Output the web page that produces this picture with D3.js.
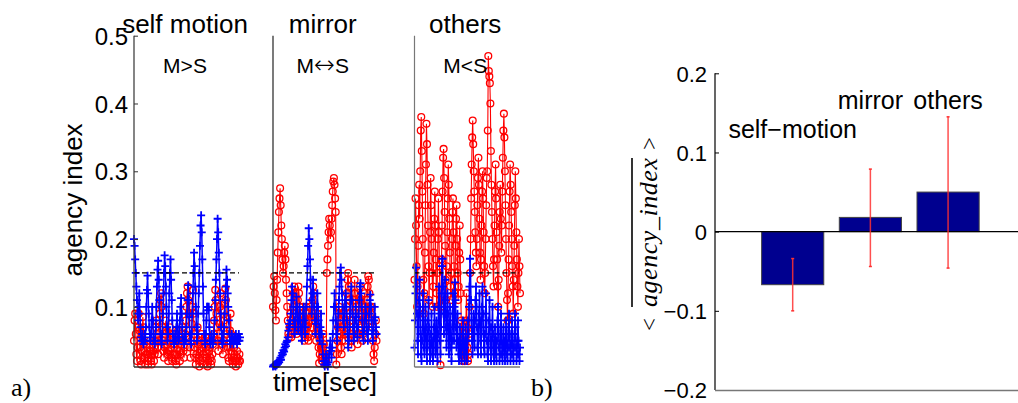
<!DOCTYPE html>
<html><head><meta charset="utf-8">
<script src="https://cdn.jsdelivr.net/npm/d3@7"></script>
<style>body{margin:0;background:#fff} svg{display:block}</style>
</head><body>
<svg id="c" width="1018" height="403"></svg>
<script>
// ---------- data ----------
const panelTitles = ["self motion", "mirror", "others"];
const panelSubtitles = [["M", ">", "S"], ["M", "\u2194", "S"], ["M", "<", "S"]];
const yTicksA = [0.1, 0.2, 0.3, 0.4, 0.5];
const threshold = 0.15;

// self motion: red = circles, blue = pluses
const red1 = [0.05,0.08,0.09,0.06,0.03,0.02,0.04,0.07,0.09,0.065,0.04,0.02,0.015,0.035,0.06,0.085,0.07,0.045,
 0.025,0.015,0.03,0.045,0.03,0.02,0.015,0.025,0.04,0.05,0.035,0.02,0.015,0.03,0.045,0.035,0.02,
 0.03,0.05,0.07,0.08,0.06,0.04,0.03,0.05,0.075,0.09,0.11,0.12,0.1,0.07,0.05,0.035,0.025,
 0.04,0.06,0.08,0.065,0.045,0.03,0.02,0.035,0.05,0.07,0.055,0.04,0.025,0.02,0.03,0.045,0.06,
 0.045,0.03,0.02,0.015,0.03,0.05,0.065,0.05,0.035,0.02,0.03,0.045,0.06,0.07,0.05,0.035,0.025,
 0.04,0.06,0.08,0.1,0.12,0.13,0.11,0.09,0.065,0.04,0.025,0.05,0.075,0.1,0.125,0.09,0.06,
 0.04,0.025,0.015,0.03,0.05,0.07,0.045,0.025,0.012,0.02,0.035,0.05,0.06,0.04,0.025,0.015,0.03,
 0.045,0.055,0.04,0.025,0.015,0.012,0.02,0.035,0.05,0.04,0.025,0.015,0.02,0.03,0.045,0.06,0.08,
 0.1,0.125,0.11,0.09,0.07,0.05,0.035,0.05,0.075,0.1,0.12,0.095,0.07,0.045,0.03,0.05,0.08,
 0.105,0.127,0.11,0.085,0.06,0.04,0.025,0.02,0.04,0.065,0.09,0.06,0.035,0.02,0.015,0.025,0.04,
 0.03,0.02,0.012,0.02,0.035,0.025,0.015,0.02,0.03,0.02];
const blue1 = [0.2,0.19,0.17,0.15,0.13,0.11,0.09,0.08,0.1,0.12,0.09,0.07,0.055,0.05,0.06,0.05,0.045,0.05,
 0.06,0.05,0.07,0.1,0.125,0.146,0.12,0.09,0.07,0.055,0.05,0.06,0.08,0.1,0.08,0.06,0.05,
 0.045,0.05,0.07,0.1,0.13,0.155,0.168,0.14,0.11,0.08,0.06,0.05,0.045,0.06,0.09,0.12,0.15,
 0.176,0.16,0.13,0.1,0.07,0.05,0.06,0.09,0.12,0.15,0.17,0.14,0.11,0.08,0.06,0.05,0.045,
 0.05,0.06,0.05,0.07,0.09,0.07,0.055,0.05,0.06,0.08,0.1,0.113,0.09,0.07,0.055,0.05,0.045,
 0.05,0.06,0.05,0.07,0.09,0.11,0.132,0.11,0.085,0.06,0.05,0.045,0.06,0.09,0.12,0.15,0.18,
 0.16,0.13,0.1,0.07,0.05,0.06,0.09,0.12,0.15,0.19,0.22,0.235,0.21,0.17,0.13,0.09,0.06,
 0.05,0.045,0.06,0.08,0.1,0.1,0.095,0.1,0.07,0.05,0.045,0.05,0.06,0.05,0.045,0.05,0.06,
 0.08,0.11,0.14,0.17,0.2,0.23,0.21,0.18,0.15,0.12,0.09,0.07,0.05,0.045,0.06,0.05,0.07,
 0.09,0.11,0.13,0.155,0.14,0.12,0.1,0.08,0.06,0.05,0.045,0.05,0.06,0.05,0.055,0.045,0.05,
 0.055,0.05,0.06,0.05,0.045,0.055,0.05,0.06,0.05,0.055];

// mirror
const red2 = [0.1,0.13,0.145,0.12,0.095,0.08,0.11,0.14,
 0.18,0.21,0.24,0.26,0.275,0.25,0.22,0.2,0.17,0.15,
 0.16,0.18,0.19,0.17,0.14,0.12,0.1,0.08,0.06,0.055,
 0.07,0.09,0.07,0.055,0.06,0.08,0.1,0.12,0.13,0.11,
 0.09,0.07,0.06,0.08,0.11,0.13,0.12,0.1,0.08,0.065,0.07,0.09,
 0.1,0.08,0.06,0.05,0.065,0.08,0.1,0.09,0.07,0.055,0.05,0.06,0.08,0.1,0.085,0.07,
 0.09,0.11,0.13,0.12,0.1,0.08,0.06,0.05,0.07,0.09,0.06,0.04,0.017,
 0.03,0.05,0.04,0.025,0.02,0.04,0.06,0.045,0.03,0.02,0.015,0.02,
 0.15,0.17,0.19,0.21,0.23,0.22,0.2,0.21,0.23,0.25,0.27,0.285,0.29,0.28,0.26,0.24,0.015,
 0.03,0.05,0.07,0.09,0.1,0.08,0.06,0.04,0.03,0.05,0.07,0.09,0.08,0.06,0.05,
 0.08,0.1,0.12,0.14,0.15,0.13,0.11,0.09,0.07,
 0.05,0.04,0.06,0.08,0.1,0.12,0.14,0.12,0.1,0.08,0.06,0.045,0.06,0.09,0.11,0.13,
 0.11,0.09,0.07,0.05,0.06,0.08,0.1,0.12,0.1,0.08,
 0.09,0.11,0.13,0.145,0.14,0.12,0.1,0.09,0.08,0.1,
 0.07,0.05,0.03,0.02,0.04,0.06,0.08,0.05];
const blue2 = [0.012,0.014,0.013,0.015,0.012,0.016,0.014,0.018,0.016,0.02,0.018,0.022,
 0.025,0.022,0.028,0.032,0.03,0.036,0.034,0.04,0.045,0.042,0.048,0.05,
 0.055,0.065,0.075,0.07,0.08,
 0.09,0.11,0.13,0.12,0.1,0.08,0.06,0.07,0.09,0.115,0.1,0.08,0.065,0.08,0.1,0.09,0.07,
 0.06,0.05,0.07,0.09,0.1,0.08,0.06,0.07,
 0.1,0.13,0.16,0.19,0.216,0.2,0.17,0.14,0.11,
 0.09,0.12,0.14,0.12,0.1,0.08,0.06,0.075,0.1,0.12,
 0.1,0.08,0.06,0.05,0.07,0.09,0.06,
 0.045,0.03,0.02,0.015,0.012,0.02,0.03,0.025,0.015,0.012,0.018,0.03,0.04,0.05,0.035,0.025,
 0.04,0.06,0.08,0.1,0.12,0.1,0.08,0.06,0.05,0.07,0.09,0.11,0.13,
 0.15,0.158,0.14,0.12,0.1,0.08,0.07,0.09,0.11,0.12,0.1,
 0.08,0.06,0.04,0.05,0.07,0.09,0.11,0.13,0.11,0.09,0.07,0.05,0.06,0.08,0.1,0.085,
 0.07,0.055,0.07,0.09,0.11,0.13,0.135,0.12,0.1,0.08,0.06,0.05,0.065,0.08,0.1,0.09,
 0.07,0.06,0.05,0.07,0.09,0.11,0.118,0.1,0.08,0.06,0.05,0.065,0.08,0.1,0.085,0.07,0.06];

// others
const red3 = [0.14,0.2,0.26,0.22,0.16,0.1,0.13,0.19,0.25,0.28,
 0.23,0.3,0.36,0.38,0.33,0.27,0.2,0.14,0.09,0.12,0.18,0.25,0.31,0.37,0.34,0.28,0.22,0.16,0.11,0.15,0.21,0.29,
 0.25,0.2,0.15,0.1,
 0.13,0.18,0.23,0.27,0.22,0.17,0.12,0.1,0.15,0.2,0.26,0.21,0.16,0.11,0.014,0.1,0.17,0.22,
 0.27,0.32,0.333,0.29,0.24,0.19,0.14,0.11,0.16,0.21,0.26,0.31,0.28,0.23,
 0.18,0.13,0.11,0.15,0.2,0.24,0.26,0.21,0.16,0.12,0.14,0.19,0.23,0.25,0.2,0.15,0.11,0.13,0.18,0.22,0.17,0.12,
 0.08,0.05,0.03,0.02,0.04,0.06,0.03,0.02,0.05,0.08,0.12,0.07,0.04,0.02,0.03,0.06,0.1,0.15,
 0.2,0.26,0.31,0.35,0.375,0.34,0.3,0.27,0.24,0.21,0.18,0.16,
 0.2,0.25,0.29,0.32,0.28,0.23,0.18,0.14,0.17,0.22,0.27,0.3,0.26,0.21,0.16,0.12,0.15,0.2,0.25,0.29,
 0.3,0.36,0.47,0.448,0.44,0.43,0.4,0.33,
 0.28,0.24,0.2,0.16,0.13,0.17,0.22,0.27,0.31,0.26,0.21,0.17,0.13,0.1,0.14,0.19,0.24,0.28,0.23,0.18,
 0.22,0.27,0.32,0.36,0.385,0.35,0.3,0.25,0.2,0.15,0.11,0.08,
 0.12,0.17,0.22,0.27,0.31,0.28,0.24,0.2,0.16,0.13,0.09,0.14,0.19,0.25,0.3,0.26,0.21,0.17,0.13,0.1,0.15,0.2,0.16,0.12];
const blue3 = [0.04,0.08,0.12,0.158,0.13,0.09,0.05,0.03,0.07,0.11,0.14,0.1,0.06,0.03,0.02,0.05,0.09,0.12,0.08,0.04,
 0.03,0.06,0.1,0.07,0.04,0.02,0.05,0.08,0.11,0.07,0.04,0.02,0.03,0.06,0.09,0.05,0.03,0.02,0.04,0.07,
 0.1,0.06,0.03,0.05,0.08,0.04,0.02,0.06,0.1,0.13,0.09,0.05,0.03,0.07,0.12,0.16,0.171,0.13,0.09,0.06,
 0.1,0.14,0.11,0.07,0.04,0.08,0.12,0.09,0.05,0.03,0.06,0.1,0.07,0.04,0.02,0.05,0.09,0.12,0.08,0.05,
 0.1,0.136,0.11,0.07,0.04,0.06,0.09,0.05,0.03,0.02,0.04,0.07,0.05,0.03,0.02,0.04,0.06,0.08,0.05,0.03,
 0.02,0.04,0.07,0.05,0.03,0.02,0.05,0.08,0.06,0.1,0.13,0.171,0.15,0.11,0.08,0.05,0.03,0.06,0.09,0.07,
 0.04,0.08,0.11,0.13,0.1,0.07,0.04,0.03,0.06,0.09,0.12,0.08,0.05,0.03,0.07,0.1,0.13,0.09,0.06,0.04,
 0.03,0.06,0.09,0.12,0.08,0.05,0.03,0.02,0.05,0.08,0.11,0.07,0.04,0.02,0.04,0.07,0.1,0.06,0.03,0.02,
 0.04,0.07,0.05,0.03,0.02,0.05,0.08,0.1,0.07,0.04,0.02,0.03,0.06,0.09,0.06,0.03,0.02,0.04,0.07,0.05,
 0.03,0.02,0.05,0.08,0.06,0.03,0.02,0.04,0.07,0.09,0.06,0.04,0.02,0.03,0.06,0.08,0.05,0.03,0.02,0.04,
 0.06,0.09,0.07,0.04,0.02,0.03,0.05,0.08,0.05,0.03,0.02,0.04];

const barCategories = ["self\u2212motion", "mirror", "others"];
const barMeans = [-0.067, 0.018, 0.05];
const barErrLow = [-0.100, -0.044, -0.046];
const barErrHigh = [-0.034, 0.079, 0.145];
const yTicksB = [-0.2, -0.1, 0, 0.1, 0.2];

// ---------- drawing ----------
const svg = d3.select("#c");
const SANS = "'Liberation Sans', Arial, sans-serif";
const SERIF = "'Liberation Serif', 'Times New Roman', serif";

// panel a
const yA = d3.scaleLinear().domain([0.0113, 0.5]).range([367, 35.7]);
const panels = [
  {x0: 134, x1: 240, red: red1, blue: blue1},
  {x0: 273, x1: 376.5, red: red2, blue: blue2},
  {x0: 414.5, x1: 520, red: red3, blue: blue3}
];
const axisColors = ["#333", "#222", "#777"];

panels.forEach((p, k) => {
  const xr = d3.scaleLinear().domain([0, p.red.length - 1]).range([p.x0, p.x1]);
  const xb = d3.scaleLinear().domain([0, p.blue.length - 1]).range([p.x0, p.x1]);
  const g = svg.append("g");
  g.append("path").datum(p.red)
    .attr("d", d3.line().x((d, i) => xr(i)).y(d => yA(d)))
    .attr("fill", "none").attr("stroke", "#ff0000").attr("stroke-width", 1.1);
  g.selectAll("circle.r").data(p.red).join("circle")
    .attr("cx", (d, i) => xr(i)).attr("cy", d => yA(d)).attr("r", 3.4)
    .attr("fill", "none").attr("stroke", "#ff0000").attr("stroke-width", 1.3);
  g.append("path").datum(p.blue)
    .attr("d", d3.line().x((d, i) => xb(i)).y(d => yA(d)))
    .attr("fill", "none").attr("stroke", "#0000ff").attr("stroke-width", 1.5);
  g.selectAll("path.b").data(p.blue).join("path").attr("class", "b")
    .attr("transform", (d, i) => `translate(${xb(i)},${yA(d)})`)
    .attr("d", "M-4,0H4M0,-4V4")
    .attr("stroke", "#0000ff").attr("stroke-width", 1.8).attr("fill", "none");
  g.append("line").attr("x1", p.x0).attr("x2", p.x1 - 1)
    .attr("y1", yA(threshold)).attr("y2", yA(threshold))
    .attr("stroke", "#000").attr("stroke-width", 1.2).attr("stroke-dasharray", "5,3");
  g.append("line").attr("x1", p.x0).attr("x2", p.x0)
    .attr("y1", yA.range()[1]).attr("y2", yA.range()[0])
    .attr("stroke", axisColors[k]).attr("stroke-width", 1.2);
  g.append("line").attr("x1", p.x0).attr("x2", p.x1)
    .attr("y1", yA.range()[0]).attr("y2", yA.range()[0])
    .attr("stroke", axisColors[k]).attr("stroke-width", 1.4);
  const cx = (p.x0 + p.x1) / 2 - 2;
  svg.append("text").attr("x", cx).attr("y", 33).attr("text-anchor", "middle")
    .attr("font-family", SANS).attr("font-size", 26).text(panelTitles[k]);
  const st = svg.append("text").attr("x", cx).attr("y", 73).attr("text-anchor", "middle")
    .attr("font-family", SANS).attr("font-size", 21);
  st.append("tspan").text(panelSubtitles[k][0]);
  st.append("tspan").attr("font-family", k === 1 ? "'DejaVu Sans', sans-serif" : SANS)
    .attr("font-size", k === 1 ? 25 : 21).attr("font-weight", k === 1 ? 300 : 400)
    .text(panelSubtitles[k][1]);
  st.append("tspan").text(panelSubtitles[k][2]);
});

const axA = d3.axisLeft(yA).tickValues(yTicksA).tickFormat(d3.format(".1f"))
  .tickSize(-4).tickPadding(6);
const gA = svg.append("g").attr("transform", "translate(134,0)").call(axA);
gA.select(".domain").remove();
gA.selectAll(".tick line").attr("stroke", "#333");
gA.selectAll(".tick text").attr("font-family", SANS).attr("font-size", 24)
  .attr("fill", "#000").attr("x", -6).attr("dy", "0.36em");

svg.append("text").attr("transform", "translate(82,200) rotate(-90)")
  .attr("text-anchor", "middle").attr("font-family", SANS).attr("font-size", 26)
  .text("agency index");
svg.append("text").attr("x", 325).attr("y", 391).attr("text-anchor", "middle")
  .attr("font-family", SANS).attr("font-size", 26).text("time[sec]");
svg.append("text").attr("x", 11).attr("y", 396)
  .attr("font-family", SERIF).attr("font-size", 26).text("a)");
svg.append("text").attr("x", 531).attr("y", 396)
  .attr("font-family", SERIF).attr("font-size", 26).text("b)");

// panel b
const yB = d3.scaleLinear().domain([-0.2, 0.2]).range([390, 73.3]);
const xB = d3.scaleLinear().domain([0, 3.9]).range([715, 1018]);
const barW = xB(0.8) - xB(0);
const gB = svg.append("g");
gB.selectAll("rect").data(barMeans).join("rect")
  .attr("x", (d, i) => xB(i + 1) - barW / 2)
  .attr("y", d => yB(Math.max(0, d)))
  .attr("width", barW)
  .attr("height", d => Math.abs(yB(d) - yB(0)))
  .attr("fill", "#00008f").attr("stroke", "#444").attr("stroke-width", 1);
gB.append("line").attr("x1", 715).attr("x2", 1018).attr("y1", yB(0)).attr("y2", yB(0))
  .attr("stroke", "#000").attr("stroke-width", 1.2);
barMeans.forEach((d, i) => {
  const x = xB(i + 1);
  gB.append("line").attr("x1", x).attr("x2", x)
    .attr("y1", yB(barErrLow[i])).attr("y2", yB(barErrHigh[i]))
    .attr("stroke", "#ff3030").attr("stroke-opacity", 0.85).attr("stroke-width", 1.5);
  [barErrLow[i], barErrHigh[i]].forEach(v => {
    gB.append("line").attr("x1", x - 1.5).attr("x2", x + 1.5)
      .attr("y1", yB(v)).attr("y2", yB(v))
      .attr("stroke", "#ff3030").attr("stroke-width", 1.5);
  });
});
const barLabelY = [0.1177, 0.155, 0.155];
barCategories.forEach((c, i) => {
  gB.append("text").attr("x", xB(i + 1)).attr("y", yB(barLabelY[i]))
    .attr("text-anchor", "middle").attr("font-family", SANS).attr("font-size", 25)
    .text(c);
});
const axB = d3.axisLeft(yB).tickValues(yTicksB)
  .tickFormat(d => d === 0 ? "0" : d3.format(".1f")(d).replace("-", "\u2212"))
  .tickSize(-4).tickPadding(8);
const gAx = svg.append("g").attr("transform", "translate(715,0)").call(axB);
gAx.select(".domain").remove();
gAx.selectAll(".tick line").attr("stroke", "#000");
gAx.selectAll(".tick text").attr("font-family", SANS).attr("font-size", 22)
  .attr("fill", "#000").attr("x", -8).attr("dy", "0.36em");
svg.append("line").attr("x1", 715).attr("x2", 715).attr("y1", yB(0.2)).attr("y2", yB(-0.2))
  .attr("stroke", "#000").attr("stroke-width", 1.2);
svg.append("line").attr("x1", 715).attr("x2", 1018).attr("y1", yB(-0.2) + 0.5).attr("y2", yB(-0.2) + 0.5)
  .attr("stroke", "#777").attr("stroke-width", 1.6);

// y label with overline
const yl = svg.append("g").attr("transform", "translate(657,234.5) rotate(-90)")
  .attr("font-family", SERIF).attr("font-size", 23);
yl.append("text").attr("x", -90).attr("text-anchor", "middle").text("<");
yl.append("text").attr("x", 2).attr("text-anchor", "middle").attr("font-style", "italic")
  .attr("font-size", 26).attr("textLength", 149).attr("lengthAdjust", "spacing").text("agency_index");
yl.append("text").attr("x", 91).attr("text-anchor", "middle").text(">");
yl.append("line").attr("x1", -72.5).attr("x2", 76.5).attr("y1", -25).attr("y2", -25)
  .attr("stroke", "#000").attr("stroke-width", 1.6);
</script>
</body></html>
